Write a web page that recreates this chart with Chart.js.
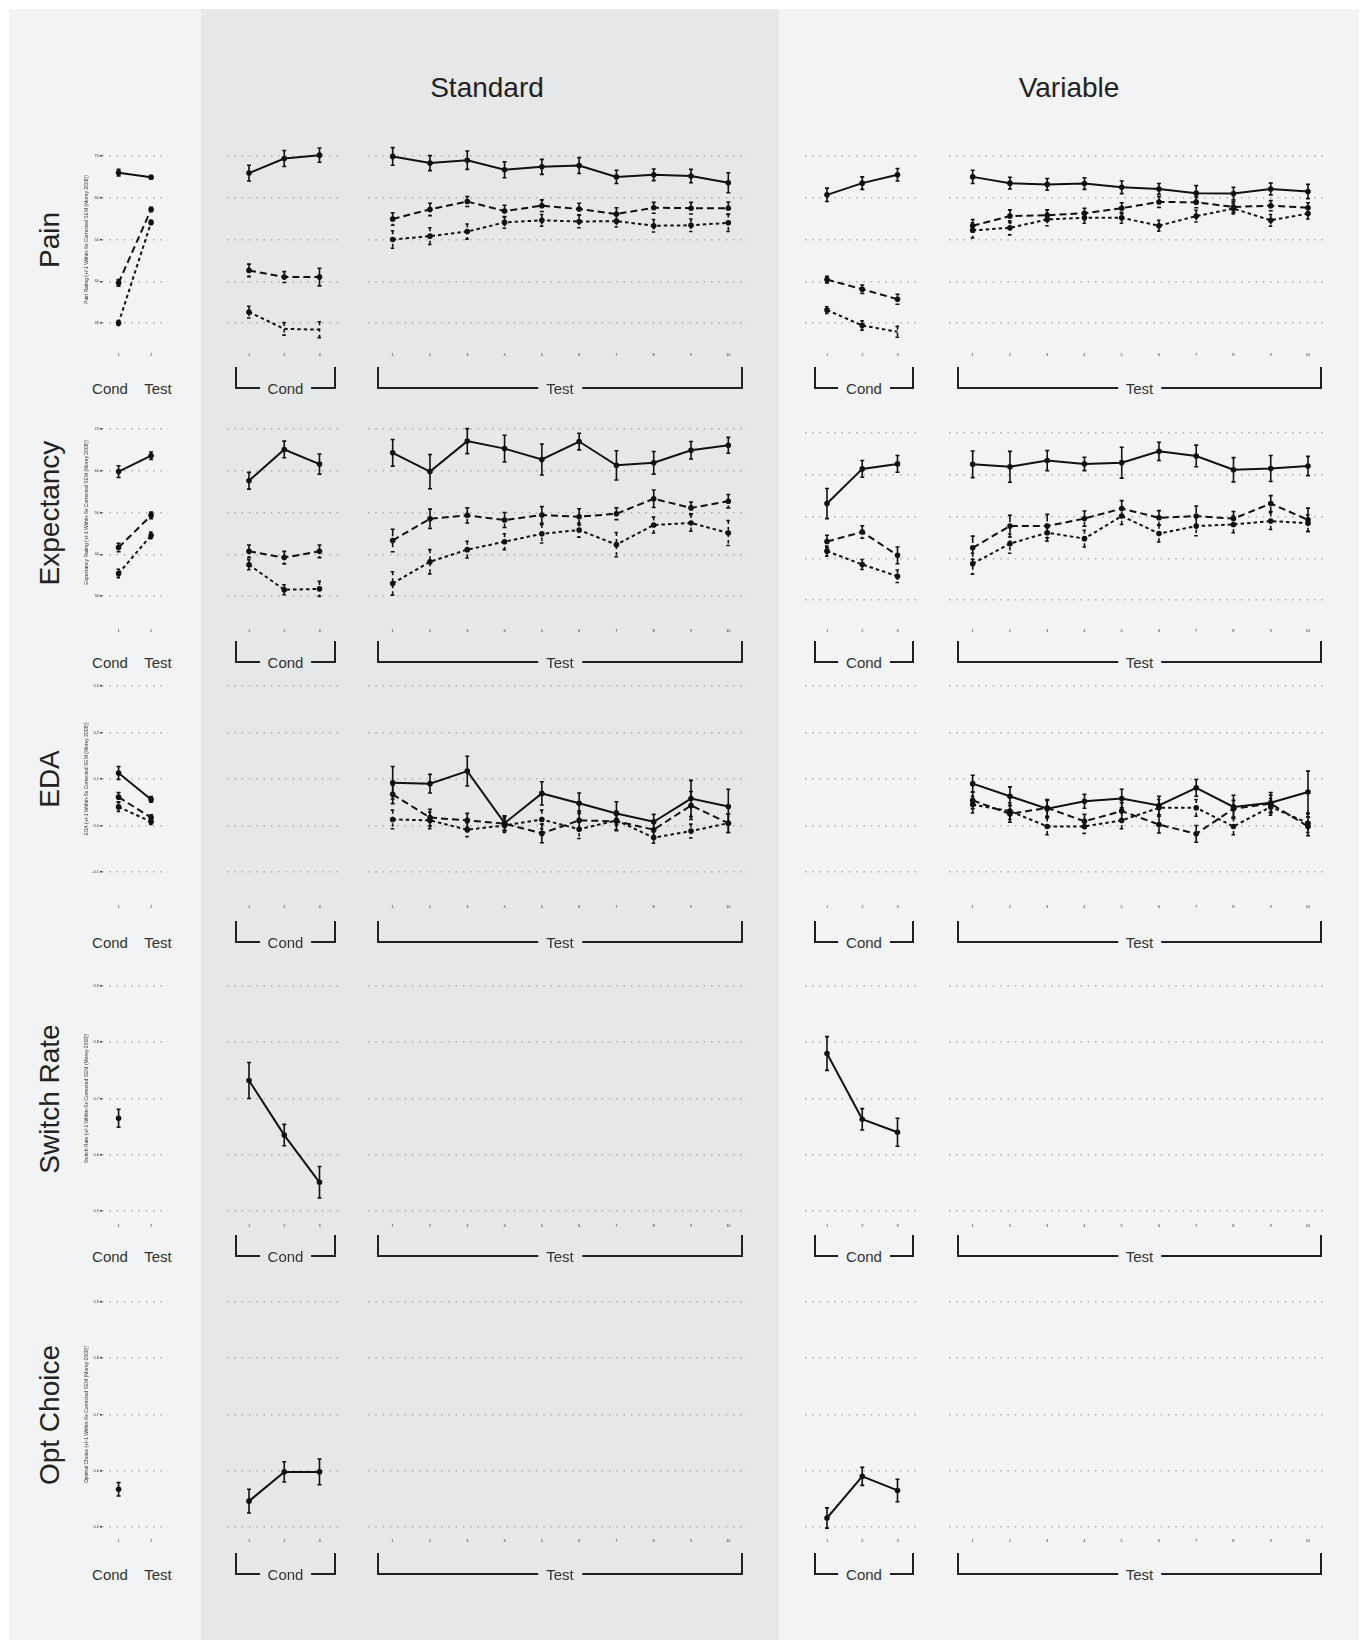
<!DOCTYPE html>
<html>
<head>
<meta charset="utf-8">
<script src="https://cdn.jsdelivr.net/npm/chart.js@4.4.1/dist/chart.umd.min.js"></script>
<style>
body{margin:0;width:1366px;height:1640px;background:#fff;position:relative;overflow:hidden;font-family:"Liberation Sans",Arial,sans-serif;color:#222}
#panel{position:absolute;left:9px;top:9px;width:1350px;height:1631px;background:#f2f3f5}
#band{position:absolute;left:201px;top:9px;width:578px;height:1631px;background:#e6e7e9}
canvas{position:absolute}
.head{position:absolute;font-size:28px;transform:translate(-50%,-50%);white-space:nowrap;color:#222}
.rowt{position:absolute;font-size:28px;transform:translate(-50%,-50%) rotate(-90deg);white-space:nowrap;color:#222}
.cat{position:absolute;font-size:15px;transform:translate(-50%,-50%);color:#333;white-space:nowrap}
.br{position:absolute;border:2px solid #222;border-top:none;box-sizing:border-box}
.br span{position:absolute;left:50%;bottom:-1px;transform:translate(-50%,50%);font-size:15px;padding:0 8px;color:#333;line-height:1;white-space:nowrap}
</style>
</head>
<body>
<div id="panel"></div>
<div id="band"></div>
<div class="head" style="left:487px;top:88px">Standard</div>
<div class="head" style="left:1069px;top:88px">Variable</div>
<script>
// tick labels
const sumTicks = ['1', '2'];
const condTicks = ['1', '2', '3'];
const testTicks = ['1', '2', '3', '4', '5', '6', '7', '8', '9', '10'];

// series order: high (solid), medium (dashed), low (dotted)
const painSum = [[66.0, 64.9], [39.6, 57.2], [30.0, 54.1]];
const painSumErr = [[0.8, 0.4], [0.8, 0.5], [0.6, 0.5]];
const painStdCond = [[65.9, 69.4, 70.2], [42.6, 41.0, 41.0], [32.6, 28.6, 28.4]];
const painStdCondErr = [[1.9, 1.9, 1.7], [1.5, 1.3, 2.1], [1.4, 1.5, 1.9]];
const painStdTest = [
  [69.9, 68.3, 69.0, 66.7, 67.4, 67.7, 65.0, 65.5, 65.2, 63.6],
  [54.9, 57.2, 59.1, 56.8, 58.1, 57.3, 56.1, 57.6, 57.5, 57.5],
  [50.0, 50.8, 51.9, 54.1, 54.6, 54.3, 54.4, 53.3, 53.4, 54.0]];
const painStdTestErr = [
  [2.1, 1.8, 2.2, 1.9, 1.8, 1.9, 1.6, 1.4, 1.6, 2.4],
  [1.5, 1.5, 1.2, 1.4, 1.4, 1.4, 1.5, 1.3, 1.4, 1.5],
  [2.1, 2.0, 1.8, 1.4, 1.4, 1.5, 1.4, 1.5, 1.5, 2.1]];
const painVarCond = [[60.7, 63.5, 65.5], [40.4, 38.1, 35.7], [33.1, 29.4, 27.9]];
const painVarCondErr = [[1.6, 1.5, 1.5], [0.8, 1.0, 1.2], [0.8, 1.1, 1.3]];
const painVarTest = [
  [65.0, 63.5, 63.2, 63.4, 62.5, 62.1, 61.1, 61.0, 62.1, 61.5],
  [53.3, 55.6, 55.8, 56.3, 57.5, 59.0, 58.9, 57.8, 58.1, 57.6],
  [52.2, 52.8, 54.8, 55.2, 55.2, 53.3, 55.6, 57.4, 54.6, 56.2]];
const painVarTestErr = [
  [1.6, 1.4, 1.4, 1.4, 1.5, 1.3, 1.8, 1.5, 1.4, 1.7],
  [1.5, 1.5, 1.3, 1.2, 1.3, 1.3, 1.3, 1.3, 1.2, 1.2],
  [1.8, 1.7, 1.5, 1.3, 1.3, 1.3, 1.4, 1.3, 1.4, 1.3]];

const expSum = [[59.8, 63.6], [41.6, 49.3], [35.4, 44.5]];
const expSumErr = [[1.4, 0.9], [1.0, 0.8], [1.0, 0.8]];
const expStdCond = [[57.6, 65.1, 61.6], [40.7, 39.2, 40.7], [37.5, 31.5, 31.7]];
const expStdCondErr = [[2.0, 2.0, 2.4], [1.5, 1.5, 1.5], [1.2, 1.2, 1.8]];
const expStdTest = [
  [64.3, 59.8, 67.1, 65.3, 62.7, 67.0, 61.3, 61.9, 64.9, 66.1],
  [43.3, 48.5, 49.3, 48.2, 49.4, 49.0, 49.7, 53.3, 51.1, 52.7],
  [33.0, 38.2, 41.1, 43.0, 44.9, 45.8, 42.3, 47.0, 47.5, 45.1]];
const expStdTestErr = [
  [3.2, 4.1, 3.0, 3.2, 3.7, 2.0, 3.5, 2.7, 2.1, 1.9],
  [2.7, 2.3, 1.8, 1.8, 2.0, 1.9, 1.4, 2.1, 1.4, 1.6],
  [2.8, 2.9, 2.0, 1.9, 2.2, 1.7, 2.9, 1.9, 2.0, 3.0]];
const expVarCond = [[53.1, 61.4, 62.6], [44.0, 46.3, 40.7], [41.7, 38.5, 35.7]];
const expVarCondErr = [[3.6, 2.0, 2.0], [1.5, 1.5, 2.0], [1.2, 1.2, 1.5]];
const expVarTest = [
  [62.5, 61.9, 63.4, 62.6, 62.9, 65.6, 64.5, 61.2, 61.5, 62.1],
  [42.5, 47.7, 47.7, 49.5, 51.9, 49.7, 50.1, 49.5, 53.1, 49.2],
  [38.7, 43.5, 46.1, 44.7, 50.1, 45.9, 47.7, 48.1, 48.9, 48.4]];
const expVarTestErr = [
  [3.2, 3.7, 2.4, 1.6, 3.7, 2.2, 2.6, 2.9, 3.1, 2.3],
  [2.8, 2.6, 2.8, 1.8, 1.9, 1.7, 2.4, 1.7, 1.9, 2.8],
  [2.5, 2.3, 2.0, 2.0, 2.0, 2.0, 2.3, 2.0, 2.0, 2.0]];

const edaSum = [[0.113, 0.056], [0.061, 0.017], [0.040, 0.008]];
const edaSumErr = [[0.014, 0.006], [0.010, 0.006], [0.010, 0.006]];
const edaStdTest = [
  [0.092, 0.090, 0.117, 0.005, 0.069, 0.048, 0.026, 0.008, 0.058, 0.041],
  [0.067, 0.017, 0.011, 0.004, -0.017, 0.011, 0.009, -0.009, 0.043, 0.005],
  [0.013, 0.011, -0.009, 0.000, 0.013, -0.008, 0.011, -0.026, -0.012, 0.005]];
const edaStdTestErr = [
  [0.035, 0.020, 0.032, 0.016, 0.025, 0.022, 0.025, 0.016, 0.039, 0.037],
  [0.020, 0.018, 0.015, 0.015, 0.020, 0.020, 0.020, 0.015, 0.030, 0.020],
  [0.020, 0.018, 0.015, 0.015, 0.020, 0.020, 0.020, 0.012, 0.015, 0.020]];
const edaVarTest = [
  [0.090, 0.063, 0.036, 0.052, 0.058, 0.043, 0.081, 0.040, 0.049, 0.072],
  [0.054, 0.025, 0.038, 0.009, 0.031, 0.002, -0.018, 0.036, 0.047, -0.002],
  [0.045, 0.031, -0.002, -0.002, 0.011, 0.038, 0.038, -0.002, 0.040, 0.005]];
const edaVarTestErr = [
  [0.018, 0.020, 0.018, 0.015, 0.020, 0.020, 0.018, 0.025, 0.022, 0.045],
  [0.018, 0.018, 0.018, 0.015, 0.018, 0.018, 0.018, 0.018, 0.018, 0.020],
  [0.018, 0.018, 0.018, 0.015, 0.018, 0.018, 0.018, 0.018, 0.018, 0.020]];

const switchSum = [[0.665, null]];
const switchSumErr = [[0.016, null]];
const switchStdCond = [[0.732, 0.635, 0.551]];
const switchStdCondErr = [[0.032, 0.019, 0.028]];
const switchVarCond = [[0.780, 0.663, 0.640]];
const switchVarCondErr = [[0.030, 0.019, 0.025]];

const optSum = [[0.567, null]];
const optSumErr = [[0.012, null]];
const optStdCond = [[0.546, 0.598, 0.598]];
const optStdCondErr = [[0.021, 0.018, 0.023]];
const optVarCond = [[0.516, 0.590, 0.565]];
const optVarCondErr = [[0.018, 0.016, 0.020]];

const seriesDash = [[], [7, 4], [3.5, 3]];

const semNote = ' (+/-1 Within-Ss Corrected SEM (Morey 2008))';
const rows = [
  { title: 'Pain', yTitle: 'Pain Rating' + semNote, min: 30, max: 70, step: 10, dec: 0,
    top: 156, bottom: 323, tick: 355, label: 388, varShift: 0,
    data: [painSum, painStdCond, painStdTest, painVarCond, painVarTest],
    err: [painSumErr, painStdCondErr, painStdTestErr, painVarCondErr, painVarTestErr] },
  { title: 'Expectancy', yTitle: 'Expectancy Rating' + semNote, min: 30, max: 70, step: 10, dec: 0,
    top: 429, bottom: 596, tick: 631, label: 662, varShift: 4,
    data: [expSum, expStdCond, expStdTest, expVarCond, expVarTest],
    err: [expSumErr, expStdCondErr, expStdTestErr, expVarCondErr, expVarTestErr] },
  { title: 'EDA', yTitle: 'EDA' + semNote, min: -0.1, max: 0.3, step: 0.1, dec: 1,
    top: 686, bottom: 872, tick: 907, label: 942, varShift: 0,
    data: [edaSum, null, edaStdTest, null, edaVarTest],
    err: [edaSumErr, null, edaStdTestErr, null, edaVarTestErr] },
  { title: 'Switch Rate', yTitle: 'Switch Rate' + semNote, min: 0.5, max: 0.9, step: 0.1, dec: 1,
    top: 986, bottom: 1211, tick: 1226, label: 1256, varShift: 0,
    data: [switchSum, switchStdCond, null, switchVarCond, null],
    err: [switchSumErr, switchStdCondErr, null, switchVarCondErr, null] },
  { title: 'Opt Choice', yTitle: 'Optimal Choice' + semNote, min: 0.5, max: 0.9, step: 0.1, dec: 1,
    top: 1302, bottom: 1527, tick: 1541, label: 1574, varShift: 0,
    data: [optSum, optStdCond, null, optVarCond, null],
    err: [optSumErr, optStdCondErr, null, optVarCondErr, null] }
];

const cols = [
  { left: 102, right: 168, min: 0.49, max: 2.52, ticks: sumTicks },
  { left: 227, right: 341, min: 0.376, max: 3.61, ticks: condTicks, br: [235, 336], name: 'Cond', bg: '#e6e7e9' },
  { left: 368, right: 748, min: 0.338, max: 10.528, ticks: testTicks, br: [377, 743], name: 'Test', bg: '#e6e7e9' },
  { left: 805, right: 919, min: 0.376, max: 3.61, ticks: condTicks, br: [814, 914], name: 'Cond', bg: '#f2f3f5' },
  { left: 949, right: 1327, min: 0.364, max: 10.51, ticks: testTicks, br: [957, 1322], name: 'Test', bg: '#f2f3f5' }
];

Chart.defaults.font.family = '"Liberation Sans", Arial, sans-serif';

const errorBars = {
  id: 'errorBars',
  afterDatasetsDraw(chart) {
    const { ctx, scales: { x, y } } = chart;
    chart.data.datasets.forEach(ds => {
      if (!ds.errors) return;
      ctx.save();
      ctx.strokeStyle = '#111';
      ctx.lineWidth = 1.6;
      ctx.setLineDash(ds.borderDash || []);
      ds.data.forEach((p, j) => {
        const e = ds.errors[j];
        if (p.y == null || e == null) return;
        const px = x.getPixelForValue(p.x);
        const t = y.getPixelForValue(p.y + e);
        const b = y.getPixelForValue(p.y - e);
        ctx.beginPath();
        ctx.moveTo(px, t); ctx.lineTo(px, b);
        ctx.moveTo(px - 2, t); ctx.lineTo(px + 2, t);
        ctx.moveTo(px - 2, b); ctx.lineTo(px + 2, b);
        ctx.stroke();
      });
      ctx.restore();
    });
  }
};

function addDiv(cls, html, style) {
  const d = document.createElement('div');
  d.className = cls;
  d.innerHTML = html;
  Object.assign(d.style, style);
  document.body.appendChild(d);
  return d;
}

function makePanel(row, col, ci) {
  const shift = ci >= 3 ? row.varShift : 0;
  const gTop = row.top + shift, gBot = row.bottom + shift;
  const isSum = ci === 0;
  const axisW = isSum ? 22 : 0;
  const padL = 14, padR = 14, padT = 20;
  const tickLen = row.tick - gBot - 2.4;
  const xH = Math.round(tickLen) + 8;
  const cv = document.createElement('canvas');
  cv.width = padL + axisW + (col.right - col.left) + padR;
  cv.height = padT + (gBot - gTop) + xH;
  cv.style.left = (col.left - axisW - padL) + 'px';
  cv.style.top = (gTop - padT) + 'px';
  document.body.appendChild(cv);

  const means = row.data[ci], errs = row.err[ci];
  const datasets = means ? means.map((m, s) => ({
    data: m.map((v, i) => ({ x: i + 1, y: v })),
    errors: errs[s],
    borderColor: '#111',
    backgroundColor: '#111',
    borderWidth: 2,
    borderDash: seriesDash[s],
    pointRadius: 2.8,
    pointBorderWidth: 0,
    pointBackgroundColor: '#111',
    tension: 0,
    clip: false
  })) : [];

  new Chart(cv, {
    type: 'line',
    data: { datasets },
    options: {
      responsive: false,
      animation: false,
      events: [],
      layout: { padding: { left: padL, right: padR, top: padT, bottom: 0 } },
      plugins: { legend: { display: false }, tooltip: { enabled: false } },
      scales: {
        x: {
          type: 'linear', min: col.min, max: col.max,
          border: { display: false },
          grid: { display: true, drawOnChartArea: false, drawTicks: true, tickLength: tickLen, tickColor: 'rgba(0,0,0,0)' },
          ticks: { stepSize: 1, includeBounds: false, padding: 0, maxRotation: 0, autoSkip: false,
            font: { size: 4 }, color: '#333', callback: v => col.ticks[v - 1] },
          afterFit: s => { s.height = xH; }
        },
        y: {
          type: 'linear', min: row.min, max: row.max,
          border: { display: false, dash: [1.5, 5.8] },
          grid: { color: '#b0b0b0', lineWidth: 1.5, drawTicks: isSum, tickLength: 2, tickColor: '#444', tickWidth: 1.5 },
          ticks: { display: isSum, stepSize: row.step, padding: 1, font: { size: 4 }, color: '#333',
            callback: v => Number(v).toFixed(row.dec) },
          title: { display: isSum, text: row.yTitle, font: { size: 5 }, color: '#333', padding: { top: 4, bottom: 0 } },
          afterFit: s => { s.width = axisW; }
        }
      }
    },
    plugins: [errorBars]
  });

  if (isSum) {
    addDiv('cat', 'Cond', { left: '110px', top: row.label + 'px' });
    addDiv('cat', 'Test', { left: '158px', top: row.label + 'px' });
  } else {
    const b = addDiv('br', '<span>' + col.name + '</span>', {
      left: col.br[0] + 'px', width: (col.br[1] - col.br[0]) + 'px',
      top: (row.label + 1 - 22) + 'px', height: '22px'
    });
    b.firstChild.style.background = col.bg;
  }
}

rows.forEach(row => {
  addDiv('rowt', row.title, { left: '50px', top: ((row.top + row.bottom) / 2) + 'px' });
  cols.forEach((col, ci) => makePanel(row, col, ci));
});
</script>
</body>
</html>
